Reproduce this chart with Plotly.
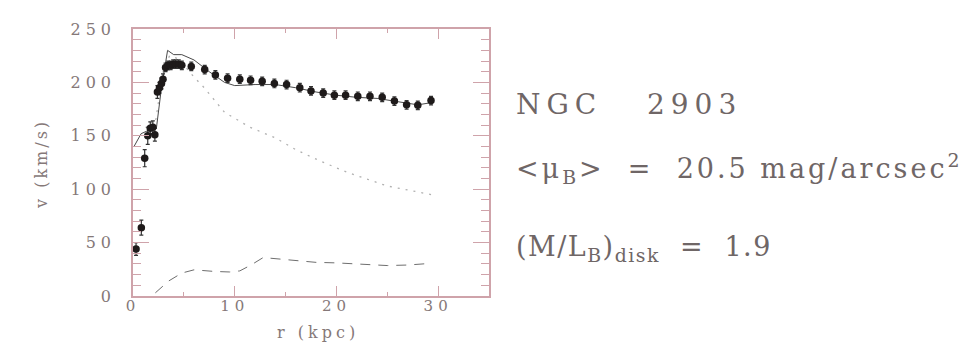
import plotly.graph_objects as go

# ---------------- data ----------------
r_obs = [0.3, 0.82, 1.15, 1.45, 1.7, 1.95, 2.15, 2.4, 2.6, 2.8, 2.95, 3.2, 3.45,
         3.7, 3.95, 4.2, 4.5, 4.8, 5.73, 7.05, 8.1, 9.3, 10.5, 11.56, 12.7, 13.9,
         15.1, 16.4, 17.5, 18.7, 19.8, 20.9, 22.1, 23.3, 24.5, 25.7, 26.9, 28.0, 29.3]
v_obs = [44, 64, 129, 150, 157, 158, 151, 191, 195, 199, 203, 214, 216,
         216, 217, 217, 217, 216, 215, 212, 207, 204, 203, 202, 201, 199,
         198, 195, 192, 190, 188, 188, 187, 187, 186, 182.5, 179, 178.5, 183]
v_err = [6, 7, 8, 8, 6, 6, 6, 6, 5, 5, 5, 4, 4,
         4, 4, 4, 4, 4, 4, 4, 4, 4, 4, 4, 4, 4,
         4, 4, 4, 4, 4, 4, 4, 4, 4, 4, 4, 4, 4]

r_total = [0.1, 0.8, 1.5, 2.3, 2.8, 3.4, 4.0, 4.8, 6.0, 7.5, 9.0, 10.0, 12.0,
           14.0, 16.0, 18.0, 20.0, 22.0, 24.0, 26.0, 28.0, 29.3]
v_total = [140, 152, 155, 157, 195, 230, 226, 226, 221, 210, 200, 197, 198,
           198, 195, 191, 188, 186, 185, 182, 179, 181]

r_disk = [2.0, 3.0, 3.6, 4.5, 6.0, 7.0, 9.0, 11.5, 14.0, 16.0, 18.5, 21.0, 25.0, 29.3]
v_disk = [150, 212, 225, 222, 205, 195, 172, 158, 148, 137, 126, 116, 103, 95]

r_gas = [2.2, 3.5, 4.8, 6.0, 8.0, 9.5, 10.5, 11.6, 12.8, 15.0, 18.0, 20.0, 23.0,
         25.0, 27.0, 29.2]
v_gas = [3, 14, 21.5, 24.5, 23, 22.5, 23.5, 29, 36, 34, 31.5, 31, 29.5, 28.5, 29, 30.5]

x_ticks = [0, 10, 20, 30]
y_ticks = [0, 50, 100, 150, 200, 250]

galaxy = "NGC 2903"
mu_text = "&lt;μ<sub>B</sub>&gt;&nbsp;&nbsp;=&nbsp;&nbsp;20.5 mag/arcsec<sup>2</sup>"
ml_text = "(M/L<sub>B</sub>)<sub>disk</sub>&nbsp;&nbsp;=&nbsp;&nbsp;1.9"

# ---------------- styling ----------------
FONT = "DejaVu Serif"
FRAME = "#cfa3aa"
LABEL = "#857878"
TEXT = "#6f6666"


def spaced(s, px):
    return f'<span style="letter-spacing:{px}px">{s}</span>'


fig = go.Figure()

fig.add_trace(go.Scatter(x=r_gas, y=v_gas, mode="lines",
                         line=dict(color="#6e6e6e", width=1, dash="10px,8px"),
                         hoverinfo="skip"))
fig.add_trace(go.Scatter(x=r_disk, y=v_disk, mode="lines",
                         line=dict(color="#b0b0b0", width=1.3, dash="2px,6px"),
                         hoverinfo="skip"))
fig.add_trace(go.Scatter(x=r_total, y=v_total, mode="lines",
                         line=dict(color="#4a4a4a", width=1),
                         hoverinfo="skip"))
fig.add_trace(go.Scatter(x=r_obs, y=v_obs, mode="markers",
                         marker=dict(color="#1e1a1a", size=7.5, symbol="circle"),
                         error_y=dict(type="data", array=v_err, color="#333",
                                      thickness=1.2, width=2),
                         hoverinfo="skip"))

axis_common = dict(showgrid=False, zeroline=False, showline=True, linecolor=FRAME,
                   linewidth=1.5, mirror="ticks", ticks="inside", tickcolor=FRAME,
                   tickwidth=1.2)

fig.update_xaxes(range=[0, 35], tickmode="array", tickvals=x_ticks,
                 ticktext=[spaced(str(t), 5) for t in x_ticks], ticklen=10,
                 tickfont=dict(family=FONT, size=15, color=LABEL),
                 minor=dict(dtick=5, ticklen=4, ticks="inside", tickcolor=FRAME,
                            tickwidth=1),
                 ticklabelstandoff=-5,
                 **axis_common)
fig.update_yaxes(range=[0, 250], tickmode="array", tickvals=y_ticks,
                 ticktext=[spaced(str(t), 5) for t in y_ticks], ticklen=16,
                 tickfont=dict(family=FONT, size=16, color=LABEL),
                 minor=dict(dtick=10, ticklen=8, ticks="inside", tickcolor=FRAME,
                            tickwidth=1),
                 ticklabelstandoff=12,
                 **axis_common)

W, H = 974, 343
ML, MR, MT, MB = 125, 493, 19, 55
pw, ph = W - ML - MR, H - MT - MB


def px2paper(xp, yp):
    return (xp - ML) / pw, (H - MB - yp) / ph


annos = []
x0, y0 = px2paper(310, 325)
annos.append(dict(x=x0, y=y0, xanchor="center", text=spaced("r (kpc)", 4),
                  font=dict(family=FONT, size=16, color=LABEL)))
x0, y0 = px2paper(34, 155)
annos.append(dict(x=x0, y=y0, xanchor="center", text=spaced("v (km/s)", 3), textangle=-90,
                  font=dict(family=FONT, size=16, color=LABEL)))
x0, y0 = px2paper(506, 95)
annos.append(dict(x=x0, y=y0, xanchor="left",
                  text=spaced(galaxy.replace(" ", "&nbsp;&nbsp;&nbsp;"), 6),
                  font=dict(family=FONT, size=28, color=TEXT)))
x0, y0 = px2paper(506, 160)
annos.append(dict(x=x0, y=y0, xanchor="left", text=spaced(mu_text, 3),
                  font=dict(family=FONT, size=27, color=TEXT)))
x0, y0 = px2paper(506, 240)
annos.append(dict(x=x0, y=y0, xanchor="left", text=spaced(ml_text, 1.5),
                  font=dict(family=FONT, size=27, color=TEXT)))
for a in annos:
    a.update(xref="paper", yref="paper", showarrow=False, yanchor="middle")

fig.update_layout(width=W, height=H, margin=dict(l=ML, r=MR, t=MT, b=MB),
                  paper_bgcolor="white", plot_bgcolor="white", showlegend=False,
                  annotations=annos)

fig.write_html("out.html")
